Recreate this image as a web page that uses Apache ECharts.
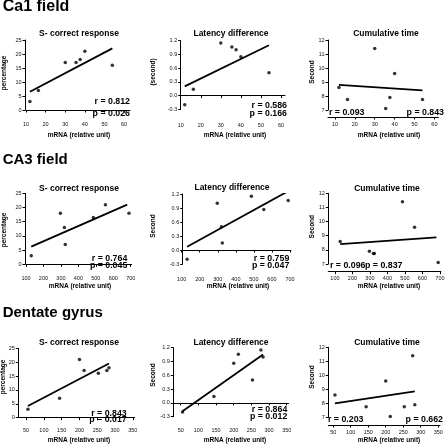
<!DOCTYPE html>
<html><head><meta charset="utf-8">
<script src="https://cdn.jsdelivr.net/npm/echarts@6/dist/echarts.min.js"></script>
<style>html,body{margin:0;padding:0;background:#fff}#c{width:448px;height:445px}</style>
</head><body><div id="c"></div>
<script>
// ---- data ----
const ca1Mrna = [12, 16.3, 30, 35.5, 37.6, 40, 54];
const ca1Correct = [3, 7, 17, 17, 18, 21, 16];
const ca1Latency = [-0.2, 0.14, 1.15, 1.06, 1.0, 0.85, 0.5];
const ca1Cumulative = [8.6, 7.75, 11.4, 7.1, 7.9, 9.6, 7.75];
const ca1FitX = [12, 54];
const ca1CorrectFit = [6.5, 22];
const ca1LatencyFit = [0.2, 1.1];
const ca1CumulativeFit = [8.8, 8.4];

const ca3Mrna = [130, 297, 320, 325, 486, 555, 690];
const ca3Correct = [3, 18, 13, 7, 16.5, 21, 18];
const ca3Latency = [-0.2, 1.0, 0.5, 0.15, 1.15, 0.87, 1.06];
const ca3Cumulative = [8.6, 7.9, 7.75, 7.75, 11.4, 9.6, 7.1];
const ca3FitX = [130, 680];
const ca3CorrectFit = [6.2, 21.0];
const ca3LatencyFit = [0.07, 1.24];
const ca3CumulativeFit = [8.4, 8.88];

const dgMrna = [55, 144, 200, 213, 253, 277, 283];
const dgCorrect = [3, 7, 21, 17, 16, 17, 18];
const dgLatency = [-0.2, 0.14, 0.86, 1.06, 0.5, 1.15, 1.0];
const dgCumulative = [8.6, 7.75, 9.6, 7.05, 7.75, 11.4, 7.9];
const dgFitX = [55, 283];
const dgCorrectFit = [4.2, 19.5];
const dgLatencyFit = [-0.18, 1.05];
const dgCumulativeFit = [8.0, 8.85];

const correctYTicks = [0, 5, 10, 15, 20, 25];
const latencyYTicks = [-0.3, 0, 0.3, 0.6, 0.9, 1.2];
const cumulativeYTicks = [7, 8, 9, 10, 11, 12];
const ca1XTicks = [10, 20, 30, 40, 50, 60];
const ca3XTicks = [100, 200, 300, 400, 500, 600, 700];
const dgXTicks = [50, 100, 150, 200, 250, 300, 350];

const sectionTitles = ['Ca1 field', 'CA3 field', 'Dentate gyrus'];
const panelTitles = ['S- correct response', 'Latency difference', 'Cumulative time'];
const xName = 'mRNA (relative unit)';
const rTexts = ['r = 0.812', 'r = 0.586', 'r = 0.093', 'r = 0.764', 'r = 0.759', 'r = 0.096', 'r = 0.843', 'r = 0.864', 'r = 0.203'];
const pTexts = ['p = 0.026', 'p = 0.166', 'p = 0.843', 'p = 0.045', 'p = 0.047', 'p = 0.837', 'p = 0.017', 'p = 0.012', 'p = 0.662'];

// ---- layout ----
const FONT = '"Liberation Sans", Arial, sans-serif';
const panels = [
  {x: ca1Mrna, y: ca1Correct, fx: ca1FitX, fy: ca1CorrectFit, xt: ca1XTicks, yt: correctYTicks, dec: 0,
   g: [26, 40, 104, 70], xr: [10, 63], yr: [0, 25], xOff: 7, yOff: 1,
   t: [79, 34], yn: 'percentage', ynp: [4.5, 73], xnp: [79, 135], rp: [130, 101.7, 'right'], pp: [130, 113.3, 'right']},
  {x: ca1Mrna, y: ca1Latency, fx: ca1FitX, fy: ca1LatencyFit, xt: ca1XTicks, yt: latencyYTicks, dec: 1,
   g: [180.7, 40.7, 104.3, 68.6], xr: [10, 62], yr: [-0.3, 1.2], xOff: 9, yOff: 0,
   t: [231, 34], yn: '(second)', ynp: [153.5, 72], xnp: [235, 135], rp: [287, 106, 'right'], pp: [287, 113.3, 'right']},
  {x: ca1Mrna, y: ca1Cumulative, fx: ca1FitX, fy: ca1CumulativeFit, xt: ca1XTicks, yt: cumulativeYTicks, dec: 0,
   g: [328, 40, 110.4, 70], xr: [6.5, 62], yr: [7, 12], xOff: 7, yOff: 0,
   t: [386, 34], yn: 'Second', ynp: [312, 72], xnp: [389, 135], rp: [329, 112.7, 'left'], pp: [444, 112.7, 'right']},
  {x: ca3Mrna, y: ca3Correct, fx: ca3FitX, fy: ca3CorrectFit, xt: ca3XTicks, yt: correctYTicks, dec: 0,
   g: [26, 193.3, 105.6, 71], xr: [100, 705], yr: [0, 25], xOff: 7.4, yOff: 1,
   t: [79, 189], yn: 'percentage', ynp: [4, 230], xnp: [80, 286.7], rp: [127.3, 258.3, 'right'], pp: [127.3, 266, 'right']},
  {x: ca3Mrna, y: ca3Latency, fx: ca3FitX, fy: ca3LatencyFit, xt: ca3XTicks, yt: latencyYTicks, dec: 1,
   g: [181.7, 194, 109.2, 70], xr: [100, 705], yr: [-0.3, 1.2], xOff: 8.3, yOff: -1,
   t: [232, 188], yn: 'Second', ynp: [153, 226], xnp: [238, 286.7], rp: [289.3, 258.3, 'right'], pp: [289.3, 266, 'right']},
  {x: ca3Mrna, y: ca3Cumulative, fx: ca3FitX, fy: ca3CumulativeFit, xt: ca3XTicks, yt: cumulativeYTicks, dec: 0,
   g: [328.3, 193.3, 112.5, 70.7], xr: [62, 705], yr: [7, 12], xOff: 7.7, yOff: 0,
   t: [387, 188.7], yn: 'Second', ynp: [312, 226.7], xnp: [389, 286.7], rp: [330, 266, 'left'], pp: [365, 266, 'left']},
  {x: dgMrna, y: dgCorrect, fx: dgFitX, fy: dgCorrectFit, xt: dgXTicks, yt: correctYTicks, dec: 0,
   g: [18.3, 348.3, 116.3, 69.4], xr: [28, 355], yr: [0, 25], xOff: 5.6, yOff: 0,
   t: [79, 342.7], yn: 'percentage', ynp: [3.5, 377], xnp: [79, 440], rp: [126.7, 413.3, 'right'], pp: [126.7, 420, 'right']},
  {x: dgMrna, y: dgLatency, fx: dgFitX, fy: dgLatencyFit, xt: dgXTicks, yt: latencyYTicks, dec: 1,
   g: [173.3, 347.7, 115.2, 69], xr: [29, 355], yr: [-0.3, 1.2], xOff: 6.6, yOff: 0,
   t: [231, 342.7], yn: 'Second', ynp: [153, 375], xnp: [235, 440], rp: [287.3, 409.3, 'right'], pp: [287.3, 416.7, 'right']},
  {x: dgMrna, y: dgCumulative, fx: dgFitX, fy: dgCumulativeFit, xt: dgXTicks, yt: cumulativeYTicks, dec: 0,
   g: [328.3, 347.3, 111.7, 70], xr: [36, 355], yr: [7, 12], xOff: 7.7, yOff: 0,
   t: [387, 342.7], yn: 'Second', ynp: [312, 377], xnp: [389, 440], rp: [328, 420, 'left'], pp: [443, 420, 'right']}
];
const sectionPos = [[2.7, 7, 16], [2.7, 160, 15], [2.7, 313, 15]];

const grid = [], xAxis = [], yAxis = [], series = [], graphic = [];
function txt(text, x, y, size, align, rot) {
  graphic.push({type: 'text', x: x, y: y, rotation: rot || 0, silent: true,
    style: {text: text, fontSize: size, fontWeight: 'bold', fontFamily: FONT, fill: '#000',
      align: align || 'center', verticalAlign: 'middle'}});
}
const axisCommon = {
  axisLine: {show: true, lineStyle: {color: '#000', width: 1}},
  axisTick: {show: true, length: 2.5, lineStyle: {color: '#000', width: 1}},
  splitLine: {show: false}
};
panels.forEach((p, i) => {
  grid.push({left: p.g[0], top: p.g[1], width: p.g[2], height: p.g[3], containLabel: false});
  xAxis.push(Object.assign({}, axisCommon, {
    type: 'value', gridIndex: i, min: p.xr[0], max: p.xr[1], offset: p.xOff,
    axisTick: Object.assign({}, axisCommon.axisTick, {customValues: p.xt}),
    axisLabel: {customValues: p.xt, fontSize: 5.5, color: '#111', fontFamily: FONT, margin: 4}
  }));
  yAxis.push(Object.assign({}, axisCommon, {
    type: 'value', gridIndex: i, min: p.yr[0], max: p.yr[1], offset: p.yOff,
    axisTick: Object.assign({}, axisCommon.axisTick, {customValues: p.yt}),
    axisLabel: {customValues: p.yt, fontSize: 5.5, color: '#111', fontFamily: FONT, margin: 3.5,
      formatter: v => Number(v).toFixed(p.dec)}
  }));
  series.push({type: 'scatter', xAxisIndex: i, yAxisIndex: i, symbol: 'circle', symbolSize: 3.5,
    itemStyle: {color: '#000'}, silent: true,
    data: p.x.map((v, k) => [v, p.y[k]])});
  series.push({type: 'line', xAxisIndex: i, yAxisIndex: i, showSymbol: false, silent: true,
    lineStyle: {color: '#000', width: 1.8},
    data: p.fx.map((v, k) => [v, p.fy[k]])});
  txt(panelTitles[i % 3], p.t[0], p.t[1], 8.5);
  txt(p.yn, p.ynp[0], p.ynp[1], 6.5, 'center', Math.PI / 2);
  txt(xName, p.xnp[0], p.xnp[1], 6.5);
  txt(rTexts[i], p.rp[0], p.rp[1], 8.8, p.rp[2]);
  txt(pTexts[i], p.pp[0], p.pp[1], 8.8, p.pp[2]);
});
sectionTitles.forEach((s, i) => txt(s, sectionPos[i][0], sectionPos[i][1], sectionPos[i][2], 'left'));

const chart = echarts.init(document.getElementById('c'), null, {renderer: 'canvas'});
chart.setOption({animation: false, backgroundColor: '#fff', grid, xAxis, yAxis, series, graphic});
</script></body></html>
